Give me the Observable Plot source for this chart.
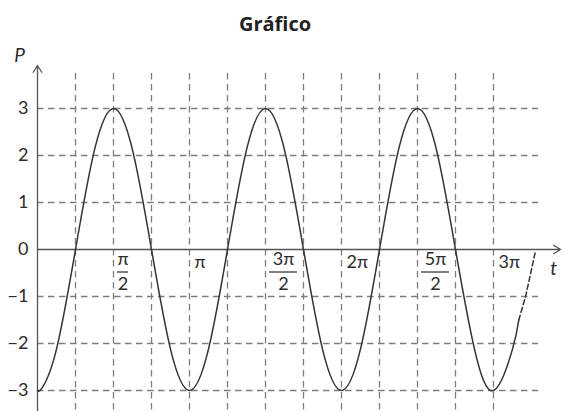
<!DOCTYPE html>
<html>
<head>
<meta charset="utf-8">
<script src="https://cdn.jsdelivr.net/npm/d3@7"></script>
<script src="https://cdn.jsdelivr.net/npm/@observablehq/plot@0.6"></script>
<style>
  body { margin: 0; background: #fff; }
  #title { width: 550px; height: 34px; padding-top: 6px; line-height: 36px; text-align: center;
           font-family: "Open Sans", sans-serif; font-weight: 700; font-size: 20px; color: #222; }
</style>
</head>
<body>
<div id="title">Gráfico</div>
<div id="chart"></div>
<script>
// ---- data ----
// curve samples: t in multiples of π/8, P values
const solidK = [0, 0.25, 1, 2, 3, 4, 5, 6, 7, 8, 9, 10, 11, 12, 13, 14, 15, 16, 17, 18, 19, 20, 21, 22, 23, 24, 25, 25.33];
const solidP = [-3, -2.94, -2.12, 0, 2.12, 3, 2.12, 0, -2.12, -3, -2.12, 0, 2.12, 3, 2.12, 0, -2.12, -3, -2.12, 0, 2.12, 3, 2.12, 0, -2.12, -3, -2.12, -1.5];
// dashed continuation
const dashK = [25.33, 25.69, 26.2];
const dashP = [-1.5, -1.0, -0.05];
// vertical grid: multiples of π/4
const gridK = [1, 2, 3, 4, 5, 6, 7, 8, 9, 10, 11, 12];
// horizontal grid values
const gridP = [-3, -2, -1, 1, 2, 3];
// y tick labels
const yTickValues = [3, 2, 1, 0, -1, -2, -3];
const yTickLabels = ["3", "2", "1", "0", "\u22121", "\u22122", "\u22123"];
// x tick labels: positions in multiples of π, numerator and denominator
const xTickMult = [0.5, 1, 1.5, 2, 2.5, 3];
const xTickNum = ["π", "π", "3π", "2π", "5π", "3π"];
const xTickDen = ["2", "", "2", "", "2", ""];
// axis extents (t in radians, P in units)
const xDomain = [0, 10.355];
const yDomain = [-3.447, 3.745];
const xArrowEnd = 10.81;
const yArrowEnd = 3.915;

const PI = Math.PI;
const solid = solidK.map((k, i) => ({t: k * PI / 8, P: solidP[i]}));
const dashed = dashK.map((k, i) => ({t: k * PI / 8, P: dashP[i]}));
const vGrid = gridK.map(k => k * PI / 4);
const yTicks = yTickValues.map((v, i) => ({P: v, label: yTickLabels[i]}));
const xTicks = xTickMult.map((m, i) => ({t: m * PI, num: xTickNum[i], den: xTickDen[i]}));
const singles = xTicks.filter(d => d.den === "");
const fracNarrow = xTicks.filter(d => d.den !== "" && d.num.length === 1);
const fracWide = xTicks.filter(d => d.den !== "" && d.num.length > 1);

const gridStyle = {stroke: "#7d7d7d", strokeWidth: 1.3, strokeDasharray: "6.5,4.5"};
const axisStyle = {stroke: "#555", strokeWidth: 1.3, headLength: 9.2, headAngle: 64};
const textStyle = {fill: "#2b2b2b", fontSize: 18, fontFamily: "Lato, 'DejaVu Sans', sans-serif"};

const chart = Plot.plot({
  width: 564,
  height: 371,
  marginTop: 33,
  marginBottom: 0,
  marginLeft: 37,
  marginRight: 26,
  x: {domain: xDomain, axis: null},
  y: {domain: yDomain, axis: null},
  style: {background: "#fff", overflow: "visible"},
  marks: [
    Plot.ruleX(vGrid, gridStyle),
    Plot.ruleY(gridP, gridStyle),
    Plot.arrow([0], {x1: 0, x2: 0, y1: yDomain[0] - 0.1, y2: yArrowEnd, ...axisStyle}),
    Plot.arrow([0], {x1: 0, x2: xArrowEnd, y1: 0, y2: 0, ...axisStyle}),
    Plot.line(solid, {x: "t", y: "P", curve: "natural", stroke: "#333", strokeWidth: 1.5}),
    Plot.line(dashed, {x: "t", y: "P", curve: "linear", stroke: "#333", strokeWidth: 1.5, strokeDasharray: "5,3"}),
    Plot.text(yTicks, {x: 0, y: "P", text: "label", dx: -9, textAnchor: "end", ...textStyle}),
    Plot.text(singles, {x: "t", y: 0, text: "num", dx: 5, dy: 18.5, textAnchor: "start", lineAnchor: "bottom", ...textStyle}),
    Plot.text(fracNarrow, {x: "t", y: 0, text: "num", dx: 9.5, dy: 15.5, textAnchor: "middle", lineAnchor: "bottom", ...textStyle}),
    Plot.text(fracNarrow, {x: "t", y: 0, text: "den", dx: 9.5, dy: 40, textAnchor: "middle", lineAnchor: "bottom", ...textStyle}),
    Plot.ruleY(fracNarrow, {y: 0, x1: "t", x2: "t", dy: 22.5, dx: 4, insetRight: -11, stroke: "#2b2b2b", strokeWidth: 1.2}),
    Plot.text(fracWide, {x: "t", y: 0, text: "num", dx: 18, dy: 15.5, textAnchor: "middle", lineAnchor: "bottom", ...textStyle}),
    Plot.text(fracWide, {x: "t", y: 0, text: "den", dx: 18, dy: 40, textAnchor: "middle", lineAnchor: "bottom", ...textStyle}),
    Plot.ruleY(fracWide, {y: 0, x1: "t", x2: "t", dy: 22.5, dx: 4, insetRight: -28, stroke: "#2b2b2b", strokeWidth: 1.2}),
    Plot.text(["P"], {x: 0, y: yArrowEnd, text: d => d, dx: -18, dy: -10, fontStyle: "italic", ...textStyle, fontSize: 19}),
    Plot.text(["t"], {x: xArrowEnd, y: 0, text: d => d, dx: -7, dy: 19, fontStyle: "italic", ...textStyle, fontSize: 19})
  ]
});
document.getElementById("chart").appendChild(chart);
</script>
</body>
</html>
